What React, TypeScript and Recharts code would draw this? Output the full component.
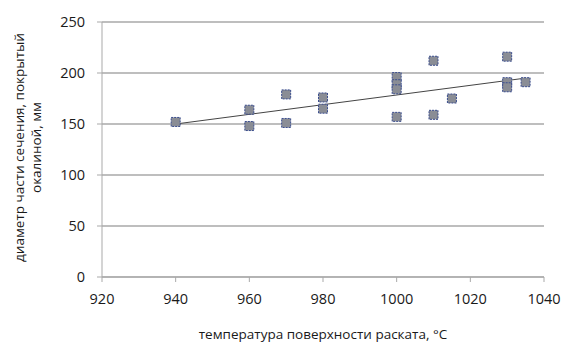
import React from 'react';
import { ScatterChart, Scatter, XAxis, YAxis, CartesianGrid, Label } from 'recharts';

// температура поверхности раската, °С
const temps = [940, 960, 960, 970, 970, 980, 980, 1000, 1000, 1000, 1000, 1010, 1010, 1015, 1030, 1030, 1030, 1035];
// диаметр части сечения, покрытый окалиной, мм
const diameters = [152, 164, 148, 179, 151, 176, 165, 196, 189, 184, 157, 212, 159, 175, 216, 191, 186, 191];

// linear trend endpoints
const trendX = [940, 1035];
const trendY = [150, 195];

const xTicks = [920, 940, 960, 980, 1000, 1020, 1040];
const yTicks = [0, 50, 100, 150, 200, 250];

const points = temps.map((t, i) => ({ t, d: diameters[i] }));
const trend = trendX.map((t, i) => ({ t, d: trendY[i] }));

const FONT = '"Open Sans", sans-serif';
const GRID = '#a9a9a9';
const INK = '#1a1a1a';

const SquareMarker: React.FC<any> = ({ cx, cy }) => (
  <rect
    x={cx - 4.5}
    y={cy - 4.5}
    width={9}
    height={9}
    fill="#8a8d95"
    stroke="#3a4d8e"
    strokeWidth={1}
    strokeDasharray="2 1"
  />
);

const NoMarker: React.FC<any> = () => <g />;

const YTitle: React.FC<any> = ({ viewBox }) => {
  const cy = viewBox.y + viewBox.height / 2 - 2;
  const cx = 24;
  return (
    <text
      transform={`rotate(-90, ${cx}, ${cy})`}
      x={cx}
      y={cy}
      textAnchor="middle"
      fontFamily={FONT}
      fontSize={13.5}
      fill={INK}
    >
      <tspan x={cx} dy={0}>диаметр части сечения, покрытый</tspan>
      <tspan x={cx} dy={17}>окалиной, мм</tspan>
    </text>
  );
};

export default function App() {
  return (
    <div style={{ position: 'absolute', left: 0, top: 0, width: 563, height: 344, background: '#fff' }}>
      <ScatterChart width={563} height={344} margin={{ top: 22, right: 19, bottom: 0, left: 0 }}>
        <CartesianGrid vertical={false} stroke={GRID} strokeWidth={1.5} />
        <XAxis
          type="number"
          dataKey="t"
          domain={[920, 1040]}
          ticks={xTicks}
          height={67}
          stroke={GRID}
          tickSize={5}
          tickMargin={12}
          tick={{ fill: INK, fontFamily: FONT, fontSize: 14.5 }}
        >
          <Label
            value="температура поверхности раската, °С"
            position="insideBottom"
            offset={5}
            style={{ fill: INK, fontFamily: FONT, fontSize: 13.5 }}
          />
        </XAxis>
        <YAxis
          type="number"
          dataKey="d"
          domain={[0, 250]}
          ticks={yTicks}
          width={102}
          stroke={GRID}
          tickSize={5}
          tickMargin={12}
          tick={{ fill: INK, fontFamily: FONT, fontSize: 14.5 }}
        >
          <Label content={<YTitle />} />
        </YAxis>
        <Scatter data={trend} line={{ stroke: '#444', strokeWidth: 1 }} shape={<NoMarker />} isAnimationActive={false} />
        <Scatter data={points} shape={<SquareMarker />} isAnimationActive={false} />
      </ScatterChart>
    </div>
  );
}
